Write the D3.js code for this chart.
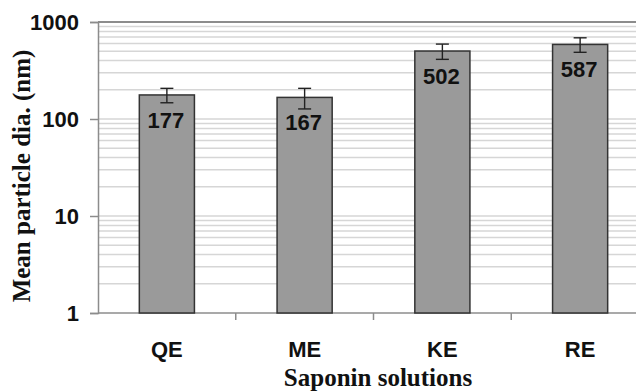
<!DOCTYPE html>
<html>
<head>
<meta charset="utf-8">
<script src="https://cdn.jsdelivr.net/npm/d3@7"></script>
<style>
  html, body { margin: 0; padding: 0; background: #fff; }
  svg { display: block; }
</style>
</head>
<body>
<svg id="chart" width="636" height="391"></svg>
<script>
// Mean particle diameter of saponin solutions (log scale)
const categories = ["QE", "ME", "KE", "RE"];
const meanDia = [177, 167, 502, 587];
const errDia = [30, 40, 90, 100];
const yTickValues = [1, 10, 100, 1000];
const yTitle = "Mean particle dia. (nm)";
const xTitle = "Saponin solutions";

const svg = d3.select("#chart");
const plot = { left: 98, right: 649, top: 22, bottom: 313 };

const x = d3.scaleBand()
  .domain(categories)
  .range([plot.left, plot.right])
  .paddingInner(0.6)
  .paddingOuter(0.3);

const y = d3.scaleLog()
  .domain([1, 1000])
  .range([plot.bottom, plot.top]);

// minor and major horizontal gridlines
const gridVals = y.ticks(10).filter(v => v > 1 && v < 1000);
svg.append("g")
  .selectAll("line")
  .data(gridVals)
  .join("line")
  .attr("x1", plot.left).attr("x2", plot.right)
  .attr("y1", d => y(d)).attr("y2", d => y(d))
  .attr("stroke", "#d6d6d6")
  .attr("stroke-width", 1.5);

// top frame line at 1000
svg.append("line")
  .attr("x1", plot.left).attr("x2", plot.right)
  .attr("y1", y(1000)).attr("y2", y(1000))
  .attr("stroke", "#8c8c8c").attr("stroke-width", 2);

// y axis
const yAxis = d3.axisLeft(y)
  .tickValues(yTickValues)
  .tickFormat(d3.format("d"))
  .tickSize(8)
  .tickPadding(11);
const gy = svg.append("g")
  .attr("transform", `translate(${plot.left},0)`)
  .call(yAxis);
gy.select(".domain").attr("stroke", "#8c8c8c").attr("stroke-width", 1.5);
gy.selectAll(".tick line").attr("stroke", "#8c8c8c").attr("stroke-width", 1.5);
gy.selectAll(".tick text")
  .attr("fill", "#111")
  .style("font-family", "'Liberation Sans', Arial, sans-serif")
  .style("font-weight", "bold")
  .style("font-size", "22px");

// x axis baseline with ticks at category boundaries
const boundaries = categories.map(c => x(c) - x.step() * x.paddingInner() / 2);
svg.append("line")
  .attr("x1", plot.left).attr("x2", plot.right)
  .attr("y1", plot.bottom).attr("y2", plot.bottom)
  .attr("stroke", "#8c8c8c").attr("stroke-width", 1.5);
svg.append("g")
  .selectAll("line")
  .data(boundaries.slice(1))
  .join("line")
  .attr("x1", d => d).attr("x2", d => d)
  .attr("y1", plot.bottom).attr("y2", plot.bottom + 7)
  .attr("stroke", "#8c8c8c").attr("stroke-width", 1.5);

// bars
const data = categories.map((c, i) => ({ c, v: meanDia[i], e: errDia[i] }));
svg.append("g")
  .selectAll("rect")
  .data(data)
  .join("rect")
  .attr("x", d => x(d.c))
  .attr("width", x.bandwidth())
  .attr("y", d => y(d.v))
  .attr("height", d => y(1) - y(d.v))
  .attr("fill", "#9a9a9a")
  .attr("stroke", "#333")
  .attr("stroke-width", 1.5);

// error bars
const eb = svg.append("g").attr("stroke", "#222").attr("stroke-width", 1.4);
data.forEach(d => {
  const cx = x(d.c) + x.bandwidth() / 2;
  eb.append("line").attr("x1", cx).attr("x2", cx)
    .attr("y1", y(d.v + d.e)).attr("y2", y(d.v - d.e));
  [d.v + d.e, d.v - d.e].forEach(val => {
    eb.append("line").attr("x1", cx - 6.5).attr("x2", cx + 6.5)
      .attr("y1", y(val)).attr("y2", y(val));
  });
});

// value labels inside bars
svg.append("g")
  .selectAll("text")
  .data(data)
  .join("text")
  .attr("x", d => x(d.c) + x.bandwidth() / 2 - 1)
  .attr("y", d => y(d.v) + 33)
  .attr("text-anchor", "middle")
  .attr("fill", "#111")
  .style("font-family", "'Liberation Sans', Arial, sans-serif")
  .style("font-weight", "bold")
  .style("font-size", "22px")
  .text(d => d.v);

// category labels
svg.append("g")
  .selectAll("text")
  .data(categories)
  .join("text")
  .attr("x", d => x(d) + x.bandwidth() / 2)
  .attr("y", 357)
  .attr("text-anchor", "middle")
  .attr("fill", "#111")
  .style("font-family", "'Liberation Sans', Arial, sans-serif")
  .style("font-weight", "bold")
  .style("font-size", "22px")
  .text(d => d);

// axis titles
svg.append("text")
  .attr("x", 378).attr("y", 386)
  .attr("text-anchor", "middle")
  .attr("fill", "#111")
  .style("font-family", "'Liberation Serif', 'Times New Roman', serif")
  .style("font-weight", "bold")
  .style("font-size", "25px")
  .text(xTitle);

svg.append("text")
  .attr("transform", "translate(30,176) rotate(-90)")
  .attr("text-anchor", "middle")
  .attr("fill", "#111")
  .style("font-family", "'Liberation Serif', 'Times New Roman', serif")
  .style("font-weight", "bold")
  .style("font-size", "25px")
  .text(yTitle);
</script>
</body>
</html>
